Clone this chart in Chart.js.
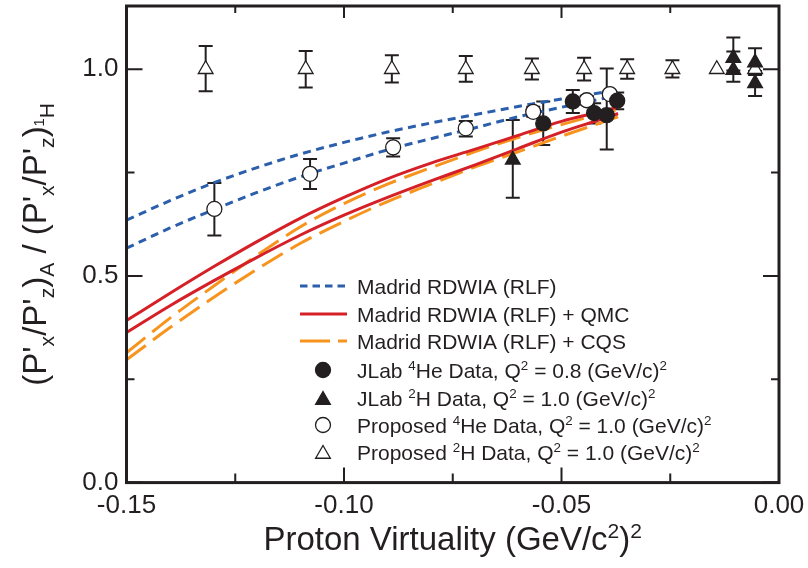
<!DOCTYPE html>
<html>
<head>
<meta charset="utf-8">
<script src="https://cdn.jsdelivr.net/npm/chart.js@4.4.1/dist/chart.umd.min.js"></script>
<style>
  html, body { margin: 0; padding: 0; background: #fff; }
  #wrap { width: 808px; height: 568px; }
</style>
</head>
<body>
<div id="wrap"><canvas id="chart" width="808" height="568"></canvas></div>
<script>
const FONT = '"Liberation Sans", Arial, Helvetica, sans-serif';
const INK = '#231f20';
const BLUE = '#2b5eab';
const RED = '#d52027';
const ORANGE = '#f7941e';

// axes
const xTicks = [-0.15, -0.10, -0.05, 0.00];
const xMinorTicks = [-0.125, -0.075, -0.025];
const yTicks = [0.0, 0.5, 1.0];
const yMinorTicks = [0.25, 0.75];

// model curves
const curveX   = [-0.15, -0.14, -0.13, -0.12, -0.11, -0.10, -0.09, -0.08, -0.07, -0.06, -0.05, -0.04, -0.037];
const rlfHigh  = [0.635, 0.682, 0.725, 0.762, 0.795, 0.823, 0.848, 0.870, 0.890, 0.910, 0.928, 0.945, 0.950];
const rlfLow   = [0.567, 0.616, 0.660, 0.702, 0.740, 0.773, 0.805, 0.832, 0.858, 0.885, 0.908, 0.930, 0.937];
const qmcHigh  = [0.392, 0.458, 0.522, 0.583, 0.640, 0.690, 0.735, 0.773, 0.806, 0.840, 0.874, 0.900, 0.909];
const qmcLow   = [0.363, 0.428, 0.488, 0.545, 0.599, 0.647, 0.690, 0.730, 0.768, 0.808, 0.848, 0.882, 0.893];
const cqsHigh  = [0.314, 0.398, 0.475, 0.550, 0.619, 0.675, 0.722, 0.762, 0.800, 0.835, 0.866, 0.895, 0.903];
const cqsLow   = [0.297, 0.375, 0.448, 0.516, 0.579, 0.632, 0.680, 0.722, 0.763, 0.800, 0.838, 0.874, 0.885];

// data points, errors as [down, up]
const jlabHeX   = [-0.0542, -0.0474, -0.0425, -0.0396, -0.0372];
const jlabHeY   = [0.869, 0.922, 0.894, 0.889, 0.924];
const jlabHeErr = [[0.052, 0.053], [0.028, 0.028], [0.025, 0.024], [0.083, 0.113], [0.021, 0.020]];

const jlabHX   = [-0.0612, -0.0105, -0.0105, -0.0055, -0.0055];
const jlabHY   = [0.781, 1.027, 0.998, 1.016, 0.966];
const jlabHErr = [[0.092, 0.096], [0.030, 0.050], [0.028, 0.045], [0.030, 0.035], [0.031, 0.030]];

const propHeX   = [-0.1298, -0.1078, -0.0887, -0.0720, -0.0565, -0.0442, -0.0389];
const propHeY   = [0.662, 0.747, 0.811, 0.857, 0.897, 0.925, 0.940];
const propHeErr = [[0.064, 0.063], [0.037, 0.036], [0.022, 0.022], [0.020, 0.018], [0.012, 0.012], [0.010, 0.010], [0.008, 0.008]];

const propHX   = [-0.1318, -0.1088, -0.0890, -0.0720, -0.0568, -0.0448, -0.0349, -0.0245, -0.0143, -0.0055];
const propHY   = [1.0, 1.0, 1.0, 1.0, 1.0, 1.0, 1.0, 1.0, 1.0, 1.0];
const propHErr = [[0.053, 0.056], [0.044, 0.044], [0.032, 0.034], [0.030, 0.032], [0.025, 0.026], [0.027, 0.028], [0.023, 0.024], [0.020, 0.022], [0, 0], [0, 0]];

function curve(ys, color, dash) {
    return {
        type: 'line',
        data: curveX.map((x, i) => ({ x: x, y: ys[i] })),
        borderColor: color,
        borderWidth: 3,
        borderDash: dash,
        pointRadius: 0,
        fill: false,
        cubicInterpolationMode: 'monotone',
        order: 10
    };
}

function points(xs, ys, errs, style, fill, radius, order) {
    return {
        type: 'scatter',
        data: xs.map((x, i) => ({ x: x, y: ys[i] })),
        yErr: errs,
        pointStyle: style,
        pointRadius: radius,
        pointHoverRadius: radius,
        pointBackgroundColor: fill,
        pointBorderColor: INK,
        pointBorderWidth: 1.3,
        showLine: false,
        order: order
    };
}

// text with super/subscripts: parts are strings or [text, kind]
function richParts(parts) {
    return parts.map(p => typeof p === 'string' ? [p, ''] : p);
}
function partFont(kind, size) {
    const s = kind === 'sup' || kind === 'sub' ? size * 0.64 : kind === 'subsup' ? size * 0.45 : size;
    return s.toFixed(1) + 'px ' + FONT;
}
function partShift(kind, size) {
    if (kind === 'sup') return -size * 0.36;
    if (kind === 'sub') return size * 0.24;
    if (kind === 'subsup') return -size * 0.06;
    return 0;
}
function measureRich(ctx, parts, size) {
    let w = 0;
    for (const [t, k] of richParts(parts)) {
        ctx.font = partFont(k, size);
        w += ctx.measureText(t).width;
    }
    return w;
}
function drawRich(ctx, parts, x, y, size) {
    let cx = x;
    ctx.textAlign = 'left';
    ctx.textBaseline = 'alphabetic';
    for (const [t, k] of richParts(parts)) {
        ctx.font = partFont(k, size);
        ctx.fillText(t, cx, y + partShift(k, size));
        cx += ctx.measureText(t).width;
    }
}

const legendRows = [
    { kind: 'line', color: BLUE, dash: [7.5, 5], text: ['Madrid RDWIA (RLF)'] },
    { kind: 'line', color: RED, dash: [], text: ['Madrid RDWIA (RLF) + QMC'] },
    { kind: 'line', color: ORANGE, dash: [30, 8], text: ['Madrid RDWIA (RLF) + CQS'] },
    { kind: 'point', style: 'circle', fill: INK, r: 7.5, text: ['JLab ', ['4', 'sup'], 'He Data, Q', ['2', 'sup'], ' = 0.8 (GeV/c)', ['2', 'sup']] },
    { kind: 'point', style: 'triangle', fill: INK, r: 8.5, text: ['JLab ', ['2', 'sup'], 'H Data, Q', ['2', 'sup'], ' = 1.0 (GeV/c)', ['2', 'sup']] },
    { kind: 'point', style: 'circle', fill: '#fff', r: 7.5, text: ['Proposed ', ['4', 'sup'], 'He Data, Q', ['2', 'sup'], ' = 1.0 (GeV/c)', ['2', 'sup']] },
    { kind: 'point', style: 'triangle', fill: '#fff', r: 8.5, text: ['Proposed ', ['2', 'sup'], 'H Data, Q', ['2', 'sup'], ' = 1.0 (GeV/c)', ['2', 'sup']] }
];

const figurePlugin = {
    id: 'figure',
    beforeDatasetsDraw(chart) {
        // error bars under the markers
        const ctx = chart.ctx, xs = chart.scales.x, ys = chart.scales.y;
        ctx.save();
        ctx.strokeStyle = INK;
        ctx.lineWidth = 2;
        chart.data.datasets.forEach(ds => {
            if (!ds.yErr) return;
            ds.data.forEach((p, i) => {
                const [dn, up] = ds.yErr[i];
                if (!dn && !up) return;
                const px = xs.getPixelForValue(p.x);
                const y1 = ys.getPixelForValue(p.y + up);
                const y2 = ys.getPixelForValue(p.y - dn);
                ctx.beginPath();
                ctx.moveTo(px, y1); ctx.lineTo(px, y2);
                ctx.moveTo(px - 7, y1); ctx.lineTo(px + 7, y1);
                ctx.moveTo(px - 7, y2); ctx.lineTo(px + 7, y2);
                ctx.stroke();
            });
        });
        ctx.restore();
    },
    afterDraw(chart) {
        const ctx = chart.ctx, xs = chart.scales.x, ys = chart.scales.y;
        const a = chart.chartArea;
        ctx.save();
        ctx.strokeStyle = INK;
        ctx.fillStyle = INK;

        // tick marks pointing inward on all four sides
        ctx.lineWidth = 2;
        const xt = (v, major) => {
            const px = xs.getPixelForValue(v);
            ctx.beginPath();
            ctx.moveTo(px, a.bottom); ctx.lineTo(px, a.bottom - (major ? 15 : 9));
            ctx.moveTo(px, a.top); ctx.lineTo(px, a.top + (major ? 12 : 7));
            ctx.stroke();
        };
        const yt = (v, major) => {
            const py = ys.getPixelForValue(v);
            ctx.beginPath();
            ctx.moveTo(a.left, py); ctx.lineTo(a.left + (major ? 16 : 8), py);
            ctx.moveTo(a.right, py); ctx.lineTo(a.right - (major ? 16 : 8), py);
            ctx.stroke();
        };
        xTicks.forEach(v => xt(v, true));
        xMinorTicks.forEach(v => xt(v, false));
        yTicks.forEach(v => yt(v, true));
        yMinorTicks.forEach(v => yt(v, false));

        // frame
        ctx.lineWidth = 3;
        ctx.strokeRect(a.left, a.top, a.right - a.left, a.bottom - a.top);

        // x title
        const xTitle = ['Proton Virtuality (GeV/c', ['2', 'sup'], ')', ['2', 'sup']];
        const xw = measureRich(ctx, xTitle, 33);
        drawRich(ctx, xTitle, (a.left + a.right) / 2 - xw / 2, 550, 33);

        // y title, rotated
        const yTitle = ['(P\'', ['x', 'sub'], '/P\'', ['z', 'sub'], ')', ['A', 'sub'], ' / (P\'', ['x', 'sub'], '/P\'', ['z', 'sub'], ')', ['1', 'subsup'], ['H', 'sub']];
        const yw = measureRich(ctx, yTitle, 33);
        ctx.save();
        ctx.translate(46, (a.top + a.bottom) / 2);
        ctx.rotate(-Math.PI / 2);
        drawRich(ctx, yTitle, -yw / 2, 0, 33);
        ctx.restore();

        // legend
        const lx = 300, tx = 357, rowY = [286, 314, 341, 370, 398, 425, 452];
        legendRows.forEach((row, i) => {
            const cy = rowY[i];
            if (row.kind === 'line') {
                ctx.save();
                ctx.strokeStyle = row.color;
                ctx.lineWidth = 3;
                ctx.setLineDash(row.dash);
                ctx.beginPath();
                ctx.moveTo(lx, cy); ctx.lineTo(lx + 47, cy);
                ctx.stroke();
                ctx.restore();
            } else {
                ctx.save();
                ctx.fillStyle = row.fill;
                ctx.strokeStyle = INK;
                ctx.lineWidth = 1.3;
                Chart.helpers.drawPoint(ctx, { pointStyle: row.style, radius: row.r, rotation: 0, borderWidth: 1.3 }, lx + 23, cy + (row.style === 'triangle' ? 2 : 0));
                ctx.restore();
            }
            ctx.fillStyle = INK;
            drawRich(ctx, row.text, tx, cy + 7.5, 21);
        });
        ctx.restore();
    }
};

new Chart(document.getElementById('chart'), {
    data: {
        datasets: [
            points(jlabHX, jlabHY, jlabHErr, 'triangle', INK, 8.5, 1),
            points(jlabHeX, jlabHeY, jlabHeErr, 'circle', INK, 7.5, 2),
            points(propHeX, propHeY, propHeErr, 'circle', '#fff', 7.5, 3),
            points(propHX, propHY, propHErr, 'triangle', '#fff', 8.5, 4),
            curve(rlfHigh, BLUE, [8, 5.5]),
            curve(rlfLow, BLUE, [8, 5.5]),
            curve(qmcHigh, RED, []),
            curve(qmcLow, RED, []),
            curve(cqsHigh, ORANGE, [24, 9]),
            curve(cqsLow, ORANGE, [24, 9])
        ]
    },
    options: {
        responsive: false,
        animation: false,
        devicePixelRatio: 1,
        layout: { autoPadding: false, padding: { top: 6, right: 29, left: 0, bottom: 0 } },
        plugins: { legend: { display: false }, tooltip: { enabled: false } },
        scales: {
            x: {
                type: 'linear',
                min: -0.15,
                max: 0,
                grid: { display: false, drawTicks: false },
                border: { display: false },
                afterBuildTicks: s => { s.ticks = xTicks.map(v => ({ value: v })); },
                afterFit: s => { s.height = 85.4; s.paddingLeft = 0; s.paddingRight = 0; },
                ticks: {
                    color: INK,
                    padding: 8,
                    font: { family: FONT, size: 26 },
                    callback: v => v.toFixed(2)
                }
            },
            y: {
                type: 'linear',
                min: 0,
                max: 1.153,
                grid: { display: false, drawTicks: false },
                border: { display: false },
                afterBuildTicks: s => { s.ticks = yTicks.map(v => ({ value: v })); },
                afterFit: s => { s.width = 126.5; s.paddingTop = 0; s.paddingBottom = 0; },
                ticks: {
                    color: INK,
                    padding: 8,
                    font: { family: FONT, size: 26 },
                    callback: v => v.toFixed(1)
                }
            }
        }
    },
    plugins: [figurePlugin]
});
</script>
</body>
</html>
